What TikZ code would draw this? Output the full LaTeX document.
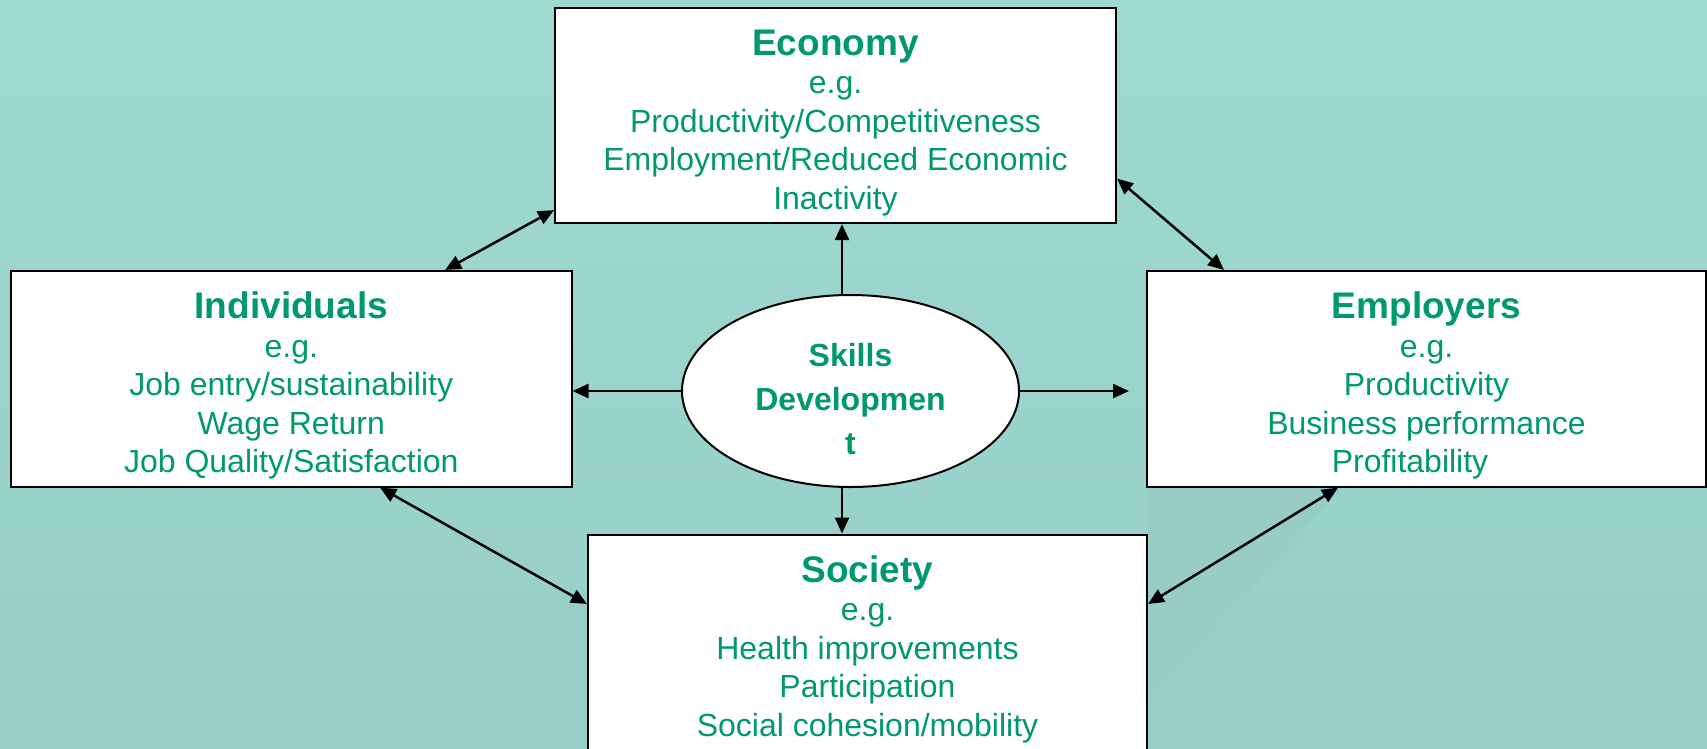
\documentclass[tikz,border=0pt]{standalone}
\usepackage{fontspec}
\setmainfont{Liberation Sans}
\usetikzlibrary{arrows.meta,calc,shapes.geometric}
\definecolor{bgA}{RGB}{158,218,210}
\definecolor{bgB}{RGB}{151,206,199}
\definecolor{bgW}{RGB}{152,204,198}
\definecolor{txt}{RGB}{0,153,110}
\begin{document}
\begin{tikzpicture}[x=1pt,y=-1pt,
  panel/.style={draw=black, line width=2pt, fill=white, rectangle, inner sep=0pt},
  paneltext/.style={text=txt, align=center, inner sep=0pt, anchor=north,
    font=\fontsize{32}{38.5}\selectfont},
  tip/.tip={Triangle[length=16pt,width=14pt]},
  conn/.style={line width=2.5pt, -tip},
  bi/.style={line width=2.5pt, tip-tip}]
\useasboundingbox (0,0) rectangle (1707,748);
\fill[top color=bgA, bottom color=bgB] (0,0) rectangle (1707,748);
\fill[bgW] (1147,487) -- (1343,487) -- (1147,703) -- cycle;

% boxes
\node[panel, minimum width=561pt, minimum height=215.5pt] (econ) at (835.5,115.3) {};
\node[panel, minimum width=560.5pt, minimum height=215.6pt] (indiv) at (291.3,378.8) {};
\node[panel, minimum width=559pt, minimum height=215.6pt] (emp) at (1426.5,378.8) {};
\node[panel, minimum width=559pt, minimum height=215.6pt] (soc) at (867.5,642.3) {};
\node[draw=black, line width=2pt, fill=white, ellipse, inner sep=0pt,
      minimum width=337pt, minimum height=192pt] (ell) at (850.5,391) {};

\newcommand{\ttlfont}{\fontsize{37}{38.5}\selectfont\bfseries}

\node[paneltext] (econT) at ($(econ.north)+(0,21.5)$)
  {{\ttlfont\strut Economy}\\ e.g.\\ Productivity/Competitiveness\\ Employment/Reduced Economic\\ Inactivity};
\node[paneltext] (indivT) at ($(indiv.north)+(0,21.5)$)
  {{\ttlfont\strut Individuals}\\ e.g.\\ Job entry/sustainability\\ Wage Return\\ Job Quality/Satisfaction};
\node[paneltext] (empT) at ($(emp.north)+(0,21.5)$)
  {{\ttlfont\strut Employers}\\ e.g.\\ Productivity\hspace*{29pt}\\ Business performance\\ Profitability\hspace*{33pt}};
\node[paneltext] (socT) at ($(soc.north)+(0,21.5)$)
  {{\ttlfont\strut Society}\\ e.g.\\ Health improvements\\ Participation\\ Social cohesion/mobility};
\node[text=txt, align=center, inner sep=0pt, font=\fontsize{32}{44}\selectfont\bfseries]
  (ellT) at (850.5,399.5) {Skills\\ Developmen\\ t};

% connectors
\draw[bi] ($(econ.south west)+(0,-14)$) -- ($(indiv.north west)+(435,0)$);
\draw[bi] ($(econ.north east)+(0,172)$) -- ($(emp.north west)+(78,0)$);
\draw[conn] ($(ell.north)+(-8.5,0.3)$) coordinate (e1) -- (e1 |- econ.south);
\draw[conn] (ell.west) -- (ell.west -| indiv.east);
\draw[conn] (ell.east) -- ($(ell.east -| emp.west)+(-17,0)$);
\draw[conn] ($(ell.south)+(-8.5,-0.3)$) coordinate (e2) -- (e2 |- soc.north);
\draw[bi] ($(indiv.south west)+(370,0)$) -- ($(soc.north west)+(0,70.5)$);
\draw[bi] ($(emp.south west)+(192,0)$) -- ($(soc.north east)+(0,70.5)$);
\end{tikzpicture}
\end{document}
